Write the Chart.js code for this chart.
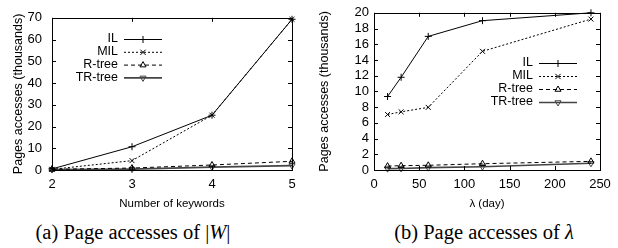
<!DOCTYPE html>
<html><head><meta charset="utf-8">
<script src="https://cdn.jsdelivr.net/npm/chart.js@4/dist/chart.umd.min.js"></script>
<style>
html,body{margin:0;padding:0;background:#fff}
body{width:618px;height:248px;position:relative;overflow:hidden;font-family:"Liberation Sans",Arial,sans-serif}
canvas{position:absolute;top:0}
#c1{left:0}
#c2{left:305px}
.cap{position:absolute;top:220px;height:24px;line-height:24px;font-family:"Liberation Serif","Times New Roman",serif;font-size:20.5px;white-space:nowrap;color:#000;text-align:center}
</style></head><body>
<canvas id="c1" width="305" height="215"></canvas>
<canvas id="c2" width="313" height="215"></canvas>
<div class="cap" style="left:13px;width:240px">(a) Page accesses of |<i>W</i>|</div>
<div class="cap" style="left:364px;width:240px">(b) Page accesses of <i>λ</i></div>
<script>
// ---- data ----
const seriesNames = ['IL', 'MIL', 'R-tree', 'TR-tree'];
const keywordCounts = [2, 3, 4, 5];
const ilByKeywords = [0.5, 10.7, 25.2, 69.3];
const milByKeywords = [0.3, 4.3, 25.2, 69.3];
const rtreeByKeywords = [0.3, 0.9, 2.3, 4.0];
const trtreeByKeywords = [0.2, 0.4, 1.3, 2.0];

const lambdaDays = [15, 30, 60, 120, 240];
const ilByLambda = [9.35, 11.8, 17.0, 19.0, 20.0];
const milByLambda = [7.06, 7.4, 7.97, 15.1, 19.2];
const rtreeByLambda = [0.5, 0.55, 0.6, 0.8, 1.1];
const trtreeByLambda = [0.17, 0.2, 0.3, 0.42, 0.85];

const yTitle = 'Pages accesses (thousands)';
const xTitleA = 'Number of keywords';
const xTitleB = 'λ (day)';

const FONT = '"Liberation Sans", Arial, sans-serif';

// ---- styles ----
const styles = [
  {color:'#000', dash:[], pointStyle:'cross', rot:0, width:1},
  {color:'#000', dash:[2,2], pointStyle:'crossRot', rot:0, width:1},
  {color:'#000', dash:[4,3], pointStyle:'triangle', rot:0, width:1},
  {color:'#444', dash:[], pointStyle:'triangle', rot:180, width:1.6}
];

function toPoints(xs, ys){ return xs.map((x,i)=>({x:x, y:ys[i]})); }

function makeDatasets(xs, seriesList){
  return seriesList.map((ys,i)=>({
    label: seriesNames[i],
    data: toPoints(xs, ys),
    borderColor: styles[i].color,
    backgroundColor: 'rgba(0,0,0,0)',
    borderWidth: styles[i].width,
    borderDash: styles[i].dash,
    pointStyle: styles[i].pointStyle,
    pointRotation: styles[i].rot,
    pointRadius: 3.5,
    pointBorderWidth: 1,
    pointBorderColor: styles[i].color,
    pointBackgroundColor: 'rgba(0,0,0,0)',
    tension: 0,
    clip: 8
  }));
}

function drawMarker(ctx, style, x, y, r, rotDeg){
  ctx.beginPath();
  let rad = rotDeg*Math.PI/180;
  if(style==='cross'){
    ctx.moveTo(x-r,y); ctx.lineTo(x+r,y); ctx.moveTo(x,y-r); ctx.lineTo(x,y+r);
  } else if(style==='crossRot'){
    const d=r*0.75;
    ctx.moveTo(x-d,y-d); ctx.lineTo(x+d,y+d); ctx.moveTo(x+d,y-d); ctx.lineTo(x-d,y+d);
  } else if(style==='triangle'){
    ctx.moveTo(x+Math.sin(rad)*r, y-Math.cos(rad)*r);
    rad += 2*Math.PI/3;
    ctx.lineTo(x+Math.sin(rad)*r, y-Math.cos(rad)*r);
    rad += 2*Math.PI/3;
    ctx.lineTo(x+Math.sin(rad)*r, y-Math.cos(rad)*r);
    ctx.closePath();
  }
  ctx.stroke();
}

const framePlugin = {
  id:'frame',
  afterDraw(chart, args, opts){
    const {ctx, chartArea:a, scales} = chart;
    ctx.save();
    ctx.strokeStyle='#000'; ctx.lineWidth=1; ctx.setLineDash([]);
    ctx.strokeRect(Math.round(a.left)+0.5, Math.round(a.top)+0.5, Math.round(a.right-a.left), Math.round(a.bottom-a.top));
    const tl=4;
    ctx.beginPath();
    scales.x.ticks.forEach(t=>{
      const px=Math.round(scales.x.getPixelForValue(t.value))+0.5;
      ctx.moveTo(px,a.bottom); ctx.lineTo(px,a.bottom-tl);
      ctx.moveTo(px,a.top); ctx.lineTo(px,a.top+tl);
    });
    scales.y.ticks.forEach(t=>{
      const py=Math.round(scales.y.getPixelForValue(t.value))+0.5;
      ctx.moveTo(a.left,py); ctx.lineTo(a.left+tl,py);
      ctx.moveTo(a.right,py); ctx.lineTo(a.right-tl,py);
    });
    ctx.stroke();
    // legend (gnuplot style: label then sample)
    const L = opts;
    ctx.font = '12.5px ' + FONT;
    ctx.fillStyle='#000';
    ctx.textAlign='right'; ctx.textBaseline='middle';
    chart.data.datasets.forEach((ds,i)=>{
      const y = L.y + i*L.dy;
      ctx.fillText(ds.label, L.x, y);
      ctx.strokeStyle = ds.borderColor; ctx.lineWidth = ds.borderWidth;
      ctx.setLineDash(ds.borderDash);
      ctx.beginPath(); ctx.moveTo(L.x+L.gap, y+0.5); ctx.lineTo(L.x+L.gap+L.len, y+0.5); ctx.stroke();
      ctx.setLineDash([]); ctx.lineWidth=1;
      drawMarker(ctx, ds.pointStyle, L.x+L.gap+L.len/2, y+0.5, 3.5, ds.pointRotation);
    });
    ctx.restore();
  }
};

function makeChart(id, xs, seriesList, cfg){
  return new Chart(document.getElementById(id), {
    type:'line',
    data:{datasets: makeDatasets(xs, seriesList)},
    plugins:[framePlugin],
    options:{
      responsive:false, animation:false, devicePixelRatio:1,
      layout:{padding:cfg.padding},
      plugins:{legend:{display:false}, tooltip:{enabled:false}, frame:cfg.legend},
      scales:{
        x:{type:'linear', min:cfg.xmin, max:cfg.xmax,
           grid:{display:false, drawTicks:false}, border:{display:false},
           ticks:{stepSize:cfg.xstep, autoSkip:false, maxRotation:0, padding:7, color:'#000', font:{family:FONT, size:13}},
           title:{display:true, text:cfg.xtitle, color:'#000', padding:0, font:{family:FONT, size:11.5}},
           afterFit(s){ s.height = cfg.xh; }
        },
        y:{type:'linear', min:0, max:cfg.ymax,
           grid:{display:false, drawTicks:false}, border:{display:false},
           ticks:{stepSize:cfg.ystep, autoSkip:false, padding:cfg.ypad, color:'#000', font:{family:FONT, size:13}},
           title:{display:true, text:yTitle, color:'#000', padding:0, font:{family:FONT, size:12.5}},
           afterFit(s){ s.width = cfg.yw; }
        }
      }
    }
  });
}

makeChart('c1', keywordCounts, [ilByKeywords, milByKeywords, rtreeByKeywords, trtreeByKeywords], {
  padding:{left:11, right:13, top:9, bottom:4},
  xmin:2, xmax:5, xstep:1, ymax:70, ystep:10, ypad:10,
  xtitle:xTitleA, xh:41, yw:41,
  legend:{x:118, y:39, dy:12.8, gap:6, len:38}
});
makeChart('c2', lambdaDays, [ilByLambda, milByLambda, rtreeByLambda, trtreeByLambda], {
  padding:{left:12, right:18, top:10, bottom:4},
  xmin:0, xmax:250, xstep:50, ymax:20, ystep:2, ypad:5,
  xtitle:xTitleB, xh:41, yw:57,
  legend:{x:228, y:63, dy:13, gap:6, len:38}
});
</script>
</body></html>
